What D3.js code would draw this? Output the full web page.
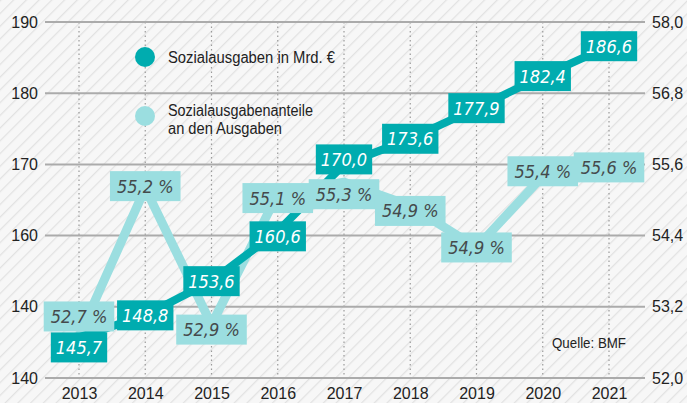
<!DOCTYPE html>
<html>
<head>
<meta charset="utf-8">
<script src="https://cdn.jsdelivr.net/npm/d3@7"></script>
<style>
  html, body { margin: 0; padding: 0; background: #fff; }
  svg { display: block; }
  .axisText { font-family: "Liberation Sans", Arial, sans-serif; font-size: 16px; fill: #222; }
  .valLabel { font-family: "DejaVu Sans Condensed", "DejaVu Sans", sans-serif; font-style: italic; font-size: 18px; }
</style>
</head>
<body>
<div id="chart"><svg width="687" height="403"></svg></div>
<script>
// ----- data -----
const years = [2013, 2014, 2015, 2016, 2017, 2018, 2019, 2020, 2021];
const spending = [145.7, 148.8, 153.6, 160.6, 170.0, 173.6, 177.9, 182.4, 186.6];
const spendingLabels = ["145,7", "148,8", "153,6", "160,6", "170,0", "173,6", "177,9", "182,4", "186,6"];
const share = [52.7, 55.2, 52.9, 55.1, 55.3, 54.9, 54.2, 55.4, 55.6];
const shareLabels = ["52,7 %", "55,2 %", "52,9 %", "55,1 %", "55,3 %", "54,9 %", "54,9 %", "55,4 %", "55,6 %"];
const leftTicks = [140, 150, 160, 170, 180, 190];
const leftTickLabels = ["140", "140", "160", "170", "180", "190"];
const rightTicks = [52.0, 53.2, 54.4, 55.6, 56.8, 58.0];
const rightTickLabels = ["52,0", "53,2", "54,4", "55,6", "56,8", "58,0"];
const legendItems = [["Sozialausgaben in Mrd. €"], ["Sozialausgabenanteile", "an den Ausgaben"]];

// label nudges so boxes don't collide (px)
const spendingNudge = [10, 0, 0, 5, -5, 0, 0, 0, 0];
const shareNudge = [-20, -2, 5, 4, 12, 5, 0, -5, 3];

const DARK = "#00acaf";
const LIGHT = "#9bdee0";

const svg = d3.select("#chart").select("svg");
const width = 687, height = 403;
const plot = {left: 45, right: 645, top: 22, bottom: 378};

// background with diagonal hatching
const defs = svg.append("defs");
const pat = defs.append("pattern")
    .attr("id", "hatch")
    .attr("patternUnits", "userSpaceOnUse")
    .attr("width", 9).attr("height", 9)
    .attr("patternTransform", "rotate(45)");
pat.append("rect").attr("width", 9).attr("height", 9).attr("fill", "#f7f7f7");
pat.append("line").attr("x1", 0).attr("y1", 0).attr("x2", 0).attr("y2", 9)
    .attr("stroke", "#e2e2e2").attr("stroke-width", 2.5);
svg.append("rect").attr("width", width).attr("height", height).attr("fill", "url(#hatch)");

// ----- scales -----
const x = d3.scalePoint().domain(years).range([79, 609]);
const yLeft = d3.scaleLinear().domain([140, 190]).range([plot.bottom, plot.top]);
const yRight = d3.scaleLinear().domain([52, 58]).range([plot.bottom, plot.top]);

// ----- grid -----
svg.append("g").selectAll("line")
    .data(years).enter().append("line")
    .attr("x1", d => x(d)).attr("x2", d => x(d))
    .attr("y1", plot.top).attr("y2", plot.bottom)
    .attr("stroke", "#9a9a9a").attr("stroke-width", 1.2)
    .attr("stroke-dasharray", "1.5,3");

svg.append("g").selectAll("line")
    .data(leftTicks).enter().append("line")
    .attr("x1", plot.left).attr("x2", plot.right)
    .attr("y1", d => yLeft(d)).attr("y2", d => yLeft(d))
    .attr("stroke", "#ababab").attr("stroke-width", 2);

// ----- axes -----
const axL = svg.append("g")
    .attr("transform", "translate(38,0)")
    .call(d3.axisLeft(yLeft).tickValues(leftTicks).tickSize(0).tickPadding(0)
        .tickFormat((d, i) => leftTickLabels[i]));
const axR = svg.append("g")
    .attr("transform", "translate(652,0)")
    .call(d3.axisRight(yRight).tickValues(rightTicks).tickSize(0).tickPadding(0)
        .tickFormat((d, i) => rightTickLabels[i]));
const axB = svg.append("g")
    .attr("transform", "translate(0,388)")
    .call(d3.axisBottom(x).tickSize(0).tickPadding(0));
[axL, axR, axB].forEach(a => {
    a.select(".domain").remove();
    a.selectAll("text").attr("class", "axisText").attr("font-family", null).attr("font-size", null);
});
axB.selectAll("text").attr("dy", "0.71em");

// ----- lines -----
const lineShare = d3.line().x((d, i) => x(years[i])).y(d => yRight(d));
const lineSpend = d3.line().x((d, i) => x(years[i])).y(d => yLeft(d));

svg.append("path").datum(share)
    .attr("d", lineShare).attr("fill", "none")
    .attr("stroke", LIGHT).attr("stroke-width", 9).attr("stroke-linejoin", "miter");
svg.append("path").datum(spending)
    .attr("d", lineSpend).attr("fill", "none")
    .attr("stroke", DARK).attr("stroke-width", 8).attr("stroke-linejoin", "miter");

// ----- value boxes -----
function drawBoxes(vals, labels, nudge, scale, fill, textColor, padX) {
    const g = svg.append("g");
    vals.forEach((v, i) => {
        const cx = x(years[i]);
        const cy = scale(v) + nudge[i];
        const box = g.append("g");
        const rect = box.append("rect").attr("fill", fill);
        const t = box.append("text")
            .attr("class", "valLabel")
            .attr("x", cx).attr("y", cy)
            .attr("dy", "0.36em")
            .attr("text-anchor", "middle")
            .attr("fill", textColor)
            .text(labels[i]);
        const w = t.node().getComputedTextLength() + padX * 2;
        rect.attr("x", cx - w / 2).attr("y", cy - 15).attr("width", w).attr("height", 30);
    });
}
drawBoxes(share, shareLabels, shareNudge, yRight, LIGHT, "#454a4c", 7);
drawBoxes(spending, spendingLabels, spendingNudge, yLeft, DARK, "#ffffff", 5);

// ----- legend -----
// the original uses a condensed face; squeeze to the same widths
const legend = svg.append("g");
const legendColors = [DARK, LIGHT];
const legendY = [57, 116];
const legendWidths = [[167], [145, 114]];
legendItems.forEach((lines, i) => {
    legend.append("circle")
        .attr("cx", 145).attr("cy", legendY[i]).attr("r", 10)
        .attr("fill", legendColors[i]);
    lines.forEach((s, j) => {
        legend.append("text")
            .attr("class", "axisText")
            .style("font-size", "16px")
            .attr("x", 168)
            .attr("y", legendY[i] + (lines.length > 1 ? j * 18 : 6))
            .attr("textLength", legendWidths[i][j])
            .attr("lengthAdjust", "spacingAndGlyphs")
            .text(s);
    });
});

// ----- source -----
svg.append("text")
    .attr("class", "axisText")
    .attr("x", 552).attr("y", 348)
    .style("font-size", "15px")
    .attr("textLength", 74)
    .attr("lengthAdjust", "spacingAndGlyphs")
    .text("Quelle: BMF");
</script>
</body>
</html>
